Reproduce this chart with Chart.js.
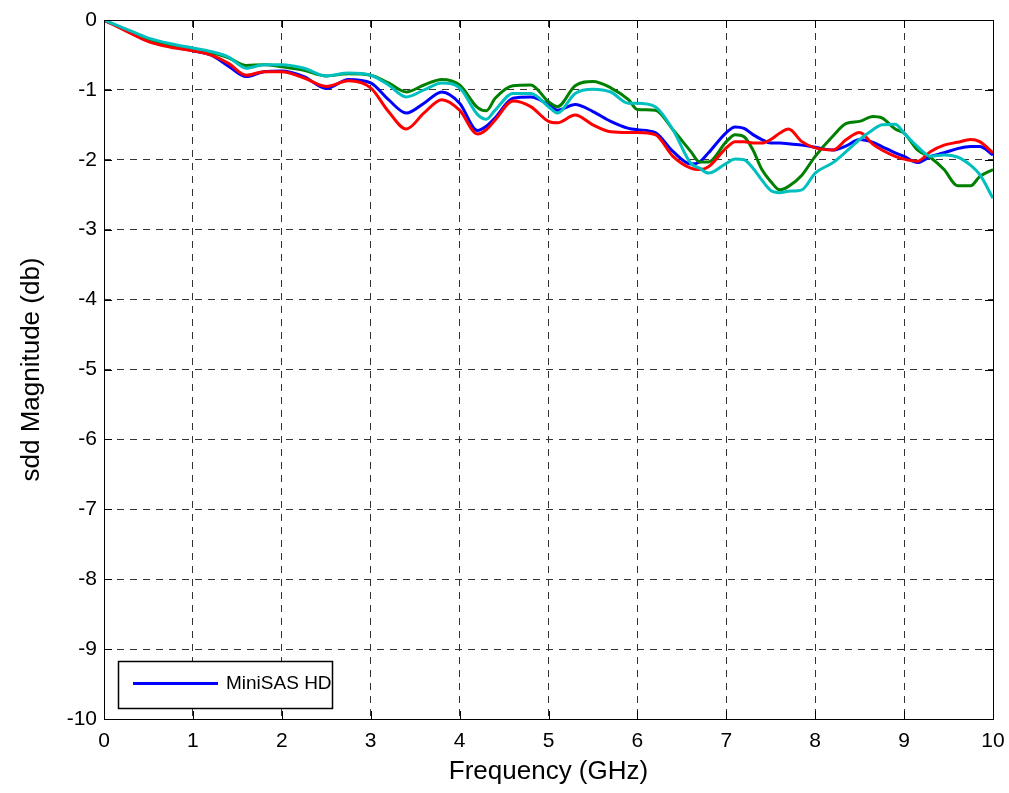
<!DOCTYPE html>
<html>
<head>
<meta charset="utf-8">
<script src="https://cdn.jsdelivr.net/npm/chart.js@4.4.1/dist/chart.umd.min.js"></script>
<style>
  html, body { margin: 0; padding: 0; background: #fff; }
  #wrap { width: 1009px; height: 793px; }
</style>
</head>
<body>
<div id="wrap"><canvas id="chart" width="1009" height="793"></canvas></div>
<script>
// frequency points (GHz)
const freq = [0, 0.25, 0.5, 0.75, 1.0, 1.2, 1.4, 1.6, 1.8, 2.0, 2.25, 2.5, 2.75, 3.0, 3.2, 3.4, 3.6, 3.8,
  4.0, 4.2, 4.3, 4.4, 4.6, 4.8, 5.0, 5.1, 5.3, 5.5, 5.7, 5.9, 6.0, 6.2, 6.4, 6.6, 6.7, 6.8, 7.0, 7.1, 7.2,
  7.3, 7.4, 7.5, 7.6, 7.7, 7.85, 8.0, 8.2, 8.35, 8.5, 8.65, 8.75, 8.9, 9.0, 9.15, 9.3, 9.45, 9.6, 9.75, 9.85, 10.0];

const blueSdd = [0, -0.15, -0.3, -0.38, -0.44, -0.5, -0.66, -0.81, -0.74, -0.73, -0.81, -0.98, -0.85, -0.9, -1.14, -1.33, -1.19, -1.03,
  -1.19, -1.58, -1.52, -1.4, -1.12, -1.1, -1.21, -1.29, -1.21, -1.31, -1.45, -1.55, -1.57, -1.61, -1.88, -2.06, -2.03, -1.9, -1.61, -1.53, -1.55,
  -1.64, -1.71, -1.76, -1.76, -1.77, -1.79, -1.82, -1.86, -1.8, -1.71, -1.75, -1.81, -1.9, -1.95, -2.04, -1.95, -1.9, -1.84, -1.81, -1.81, -1.93];

const redSdd = [0, -0.16, -0.31, -0.39, -0.44, -0.5, -0.62, -0.79, -0.74, -0.74, -0.83, -0.95, -0.87, -0.97, -1.31, -1.56, -1.33, -1.14,
  -1.29, -1.63, -1.57, -1.43, -1.16, -1.24, -1.45, -1.47, -1.36, -1.5, -1.6, -1.61, -1.61, -1.64, -1.95, -2.12, -2.14, -2.1, -1.83, -1.74, -1.74,
  -1.76, -1.76, -1.71, -1.62, -1.56, -1.74, -1.83, -1.86, -1.71, -1.61, -1.78, -1.86, -1.95, -1.99, -2.02, -1.88, -1.79, -1.75, -1.71, -1.74, -1.9];

const greenSdd = [0, -0.15, -0.29, -0.37, -0.42, -0.47, -0.54, -0.65, -0.64, -0.67, -0.72, -0.8, -0.77, -0.79, -0.9, -1.03, -0.93, -0.85,
  -0.93, -1.25, -1.3, -1.12, -0.94, -0.93, -1.17, -1.24, -0.94, -0.88, -0.97, -1.14, -1.28, -1.29, -1.57, -1.88, -2.03, -2.03, -1.74, -1.64, -1.67,
  -1.86, -2.14, -2.31, -2.43, -2.38, -2.22, -1.95, -1.66, -1.48, -1.45, -1.38, -1.4, -1.56, -1.62, -1.86, -1.97, -2.14, -2.37, -2.37, -2.24, -2.14];

const cyanSdd = [0, -0.13, -0.26, -0.34, -0.4, -0.45, -0.53, -0.69, -0.64, -0.64, -0.69, -0.8, -0.76, -0.79, -0.93, -1.1, -1.0, -0.9,
  -0.97, -1.35, -1.42, -1.29, -1.05, -1.05, -1.24, -1.33, -1.05, -0.99, -1.03, -1.19, -1.19, -1.24, -1.57, -2.05, -2.12, -2.19, -2.05, -1.99, -2.0,
  -2.12, -2.29, -2.44, -2.47, -2.45, -2.43, -2.19, -2.04, -1.88, -1.71, -1.57, -1.5, -1.49, -1.62, -1.81, -1.95, -1.93, -1.96, -2.08, -2.21, -2.55];

const xTicks = [0, 1, 2, 3, 4, 5, 6, 7, 8, 9, 10];
const yTicks = [0, -1, -2, -3, -4, -5, -6, -7, -8, -9, -10];

const FONT = 'Liberation Sans, Arial, sans-serif';

function points(vals) {
  return freq.map((f, i) => ({x: f, y: vals[i]}));
}

function series(label, vals, color, order) {
  return {
    label: label,
    data: points(vals),
    borderColor: color,
    backgroundColor: color,
    borderWidth: 3,
    pointRadius: 0,
    fill: false,
    cubicInterpolationMode: 'monotone',
    order: order
  };
}

// box around the plot + legend drawn inside the axes, MATLAB style
const boxAndLegend = {
  id: 'boxAndLegend',
  afterDraw(chart) {
    const ctx = chart.ctx;
    const a = chart.chartArea;
    ctx.save();
    ctx.strokeStyle = '#000';
    ctx.lineWidth = 1;
    ctx.setLineDash([]);
    ctx.strokeRect(a.left + 0.5, a.top + 0.5, a.right - a.left, a.bottom - a.top);

    // little inward tick marks
    const xs = chart.scales.x, ys = chart.scales.y;
    ctx.beginPath();
    xTicks.forEach(t => {
      const px = Math.round(xs.getPixelForValue(t)) + 0.5;
      ctx.moveTo(px, a.bottom); ctx.lineTo(px, a.bottom - 8);
      ctx.moveTo(px, a.top); ctx.lineTo(px, a.top + 8);
    });
    yTicks.forEach(t => {
      const py = Math.round(ys.getPixelForValue(t)) + 0.5;
      ctx.moveTo(a.left, py); ctx.lineTo(a.left + 8, py);
      ctx.moveTo(a.right, py); ctx.lineTo(a.right - 8, py);
    });
    ctx.stroke();

    const ds = chart.data.datasets[0];
    const bx = a.left + 14, by = a.bottom - 58, bw = 214, bh = 47;
    ctx.fillStyle = '#fff';
    ctx.fillRect(bx, by, bw, bh);
    ctx.lineWidth = 1.5;
    ctx.strokeRect(bx + 0.5, by + 0.5, bw, bh);
    ctx.strokeStyle = ds.borderColor;
    ctx.lineWidth = 3;
    ctx.beginPath();
    ctx.moveTo(bx + 15, by + 22.5);
    ctx.lineTo(bx + 100, by + 22.5);
    ctx.stroke();
    ctx.fillStyle = '#000';
    ctx.font = '19px ' + FONT;
    ctx.textBaseline = 'middle';
    ctx.fillText(ds.label, bx + 108, by + 23);
    ctx.restore();
  }
};

new Chart(document.getElementById('chart'), {
  type: 'line',
  data: {
    datasets: [
      series('MiniSAS HD', blueSdd, '#0000ff', 3),
      series('', greenSdd, '#008000', 2),
      series('', redSdd, '#ff0000', 1),
      series('', cyanSdd, '#00bfbf', 0)
    ]
  },
  options: {
    responsive: false,
    animation: false,
    layout: {padding: {top: 20, right: 16, left: 0, bottom: 0}},
    plugins: {
      legend: {display: false},
      tooltip: {enabled: false}
    },
    scales: {
      x: {
        type: 'linear',
        min: 0, max: 10,
        afterBuildTicks: s => { s.ticks = xTicks.map(v => ({value: v})); },
        afterFit: s => { s.height = 74; s.paddingLeft = 0; s.paddingRight = 0; },
        ticks: {color: '#000', font: {family: FONT, size: 21}, padding: 10},
        grid: {color: '#333', lineWidth: 1, drawTicks: false},
        border: {display: false, dash: [7, 6]},
        title: {display: true, text: 'Frequency (GHz)', color: '#000', font: {family: FONT, size: 26}, padding: {top: 4, bottom: 6}}
      },
      y: {
        type: 'linear',
        min: -10, max: 0,
        afterBuildTicks: s => { s.ticks = yTicks.map(v => ({value: v})); },
        afterFit: s => { s.width = 104; s.paddingTop = 0; s.paddingBottom = 0; },
        ticks: {color: '#000', font: {family: FONT, size: 21}, padding: 7},
        grid: {color: '#333', lineWidth: 1, drawTicks: false},
        border: {display: false, dash: [7, 6]},
        title: {display: true, text: 'sdd Magnitude (db)', color: '#000', font: {family: FONT, size: 26}, padding: {top: 16, bottom: 4}}
      }
    }
  },
  plugins: [boxAndLegend]
});
</script>
</body>
</html>
